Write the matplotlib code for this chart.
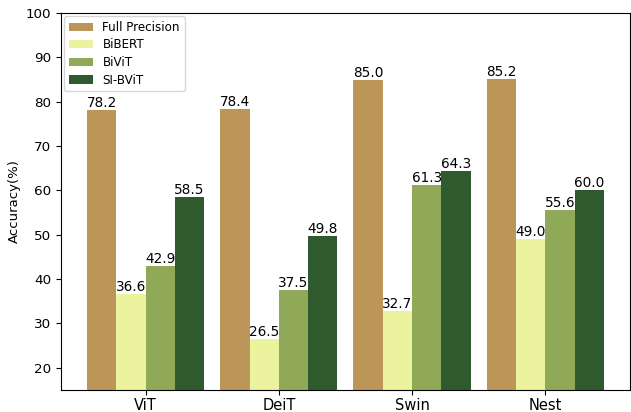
import matplotlib
matplotlib.use("Agg")
import matplotlib.pyplot as plt
import numpy as np

models = ["ViT", "DeiT", "Swin", "Nest"]
methods = ["Full Precision", "BiBERT", "BiViT", "SI-BViT"]
full_precision = [78.2, 78.4, 85.0, 85.2]
bibert = [36.6, 26.5, 32.7, 49.0]
bivit = [42.9, 37.5, 61.3, 55.6]
si_bvit = [58.5, 49.8, 64.3, 60.0]
colors = ["#BC9659", "#ECF39F", "#8FA959", "#2F5A2D"]

series = [full_precision, bibert, bivit, si_bvit]

fig = plt.figure(figsize=(6.31, 4.12), dpi=100)
ax = fig.add_axes([0.097, 0.054, 0.901, 0.914])

x = np.arange(len(models))
width = 0.22
for i, (vals, name, c) in enumerate(zip(series, methods, colors)):
    pos = x + (i - 1.5) * width
    bars = ax.bar(pos, vals, width, color=c, label=name)
    for b, v in zip(bars, vals):
        ax.text(b.get_x() + b.get_width() / 2, v, f"{v:.1f}",
                ha="center", va="bottom", fontsize=9.8)

ax.set_ylim(15, 100)
ax.set_yticks(np.arange(20, 101, 10))
ax.set_xticks(x)
ax.set_xticklabels(models, fontsize=10.5)
ax.tick_params(axis="x", pad=2.2)
ax.tick_params(axis="y", labelsize=9.7)
ax.set_ylabel("Accuracy(%)", fontsize=9.5)
ax.legend(loc="upper left", fontsize=8.6, labelspacing=0.38,
          borderaxespad=0.25)

fig.savefig("out.png", dpi=100)
